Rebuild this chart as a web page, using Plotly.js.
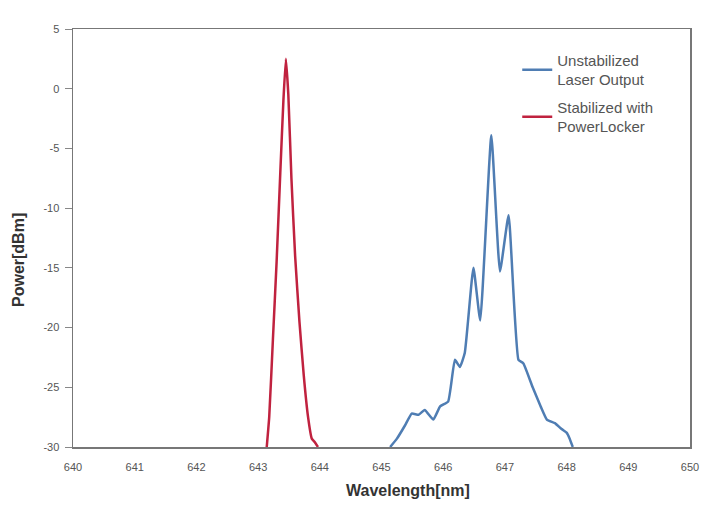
<!DOCTYPE html>
<html>
<head>
<meta charset="utf-8">
<script src="https://cdn.plot.ly/plotly-3.0.1.min.js"></script>
<style>html,body{margin:0;padding:0;background:#fff;}#chart{width:711px;height:509px;}</style>
</head>
<body>
<div id="chart"></div>
<script>
var blueName = "Unstabilized<br>Laser Output";
var redName = "Stabilized with<br>PowerLocker";

var blueX = [645.14, 645.25, 645.38, 645.49, 645.60, 645.70, 645.84, 645.95, 646.08, 646.19, 646.27, 646.35, 646.49, 646.60, 646.78, 646.92, 647.06, 647.22, 647.30, 647.45, 647.58, 647.68, 647.81, 647.92, 648.00, 648.05, 648.10];
var blueY = [-30, -29.3, -28.2, -27.2, -27.3, -26.9, -27.7, -26.6, -26.2, -22.7, -23.3, -22.1, -15.0, -19.4, -3.9, -15.3, -10.6, -22.7, -23.0, -25.0, -26.6, -27.7, -28.0, -28.5, -28.8, -29.3, -30];

var redX = [643.14, 643.18, 643.24, 643.30, 643.36, 643.41, 643.45, 643.49, 643.54, 643.60, 643.67, 643.74, 643.81, 643.87, 643.92, 643.97];
var redY = [-30, -27.5, -21, -14.5, -7, -1, 2.5, -0.5, -7.5, -14, -19.5, -24, -27.5, -29.3, -29.6, -30];

var xTicks = [640, 641, 642, 643, 644, 645, 646, 647, 648, 649, 650];
var yTicks = [5, 0, -5, -10, -15, -20, -25, -30];

var traces = [
  {x: blueX, y: blueY, name: blueName, legendgroup: 'u', type: 'scatter', mode: 'lines',
   line: {color: '#4f7db3', width: 2.5, shape: 'spline', smoothing: 0.4}},
  {x: redX, y: redY, name: redName, legendgroup: 's', type: 'scatter', mode: 'lines',
   line: {color: '#c0223f', width: 2.5, shape: 'spline', smoothing: 0.4}}
];

var layout = {
  width: 711, height: 509,
  margin: {l: 73, r: 21, t: 29, b: 62},
  paper_bgcolor: '#ffffff', plot_bgcolor: '#ffffff',
  font: {family: 'Liberation Sans, Arial, sans-serif', color: '#555'},
  showlegend: true,
  legend: {x: 0.72, y: 0.965, xanchor: 'left', yanchor: 'top', bgcolor: 'rgba(0,0,0,0)',
           font: {size: 15, color: '#555'}, itemwidth: 30, traceorder: 'grouped', tracegroupgap: 5},
  xaxis: {range: [640, 650], tickvals: xTicks, ticktext: xTicks.map(String),
          showgrid: false, zeroline: false, showline: true, linecolor: '#777', linewidth: 1.5,
          mirror: true, ticks: '', ticklabelstandoff: 9, tickfont: {size: 11, color: '#555'}},
  yaxis: {range: [-30, 5], tickvals: yTicks, ticktext: yTicks.map(String),
          showgrid: false, zeroline: false, showline: true, linecolor: '#777', linewidth: 1.5,
          mirror: true, ticks: 'outside', ticklen: 7, tickcolor: '#888', ticklabelstandoff: 3,
          tickfont: {size: 11, color: '#555'}},
  annotations: [
    {text: '<b>Power[dBm]</b>', xref: 'paper', yref: 'paper', x: (18 - 73) / 617, y: (447 - 260) / 418,
     textangle: -90, showarrow: false, xanchor: 'center', yanchor: 'middle',
     font: {size: 16, color: '#333'}},
    {text: '<b>Wavelength[nm]</b>', xref: 'paper', yref: 'paper', x: (408 - 73) / 617, y: (447 - 490) / 418,
     showarrow: false, xanchor: 'center', yanchor: 'middle',
     font: {size: 16, color: '#333'}}
  ]
};

Plotly.newPlot('chart', traces, layout, {displayModeBar: false, staticPlot: true});
</script>
</body>
</html>
